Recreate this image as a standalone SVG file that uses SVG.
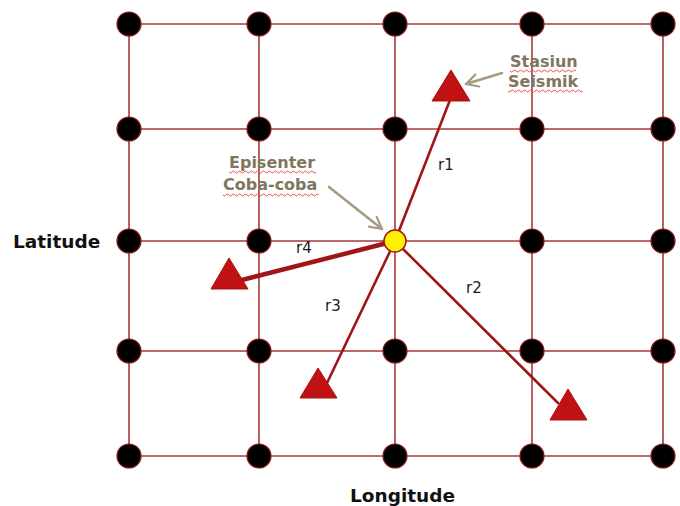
<svg xmlns="http://www.w3.org/2000/svg" width="680" height="506" viewBox="0 0 680 506">
<style>
.grid{stroke:#A8383A;stroke-width:1.6;fill:none}
.dot{fill:#000;stroke:#8B1A1A;stroke-width:1.2}
.ray{stroke:#A01518;stroke-width:2.6;fill:none;stroke-linecap:round}
.sta{fill:#C01212;stroke:#A81010;stroke-width:1}
.lbl{font-family:"DejaVu Sans",Verdana,sans-serif;font-size:15px;fill:#1a1a1a}
.axis{font-family:"DejaVu Sans",Verdana,sans-serif;font-size:18.5px;font-weight:bold;fill:#111}
.call{font-family:"DejaVu Sans",Verdana,sans-serif;font-size:16px;font-weight:bold;fill:#807660}
.callarrow{stroke:#A59B80;stroke-width:2.6;fill:none;stroke-linecap:round}
.wavy{stroke:#F05050;stroke-width:1;fill:none}
</style>
<defs>
<marker id="ah" viewBox="0 0 10 10" refX="8.5" refY="5" markerWidth="6" markerHeight="6" orient="auto" markerUnits="strokeWidth">
<path d="M1 1 L8.5 5 L1 9" fill="none" stroke="#A59B80" stroke-width="1.4" stroke-linecap="round" stroke-linejoin="round"/>
</marker>
</defs>
<rect width="680" height="506" fill="#fff"/>
<g id="grid">
<line class="grid" x1="129" y1="24" x2="663" y2="24"/>
<line class="grid" x1="129" y1="129" x2="663" y2="129"/>
<line class="grid" x1="129" y1="241" x2="663" y2="241"/>
<line class="grid" x1="129" y1="351" x2="663" y2="351"/>
<line class="grid" x1="129" y1="456" x2="663" y2="456"/>
<line class="grid" x1="129" y1="24" x2="129" y2="456"/>
<line class="grid" x1="259" y1="24" x2="259" y2="456"/>
<line class="grid" x1="395" y1="24" x2="395" y2="456"/>
<line class="grid" x1="532" y1="24" x2="532" y2="456"/>
<line class="grid" x1="663" y1="24" x2="663" y2="456"/>
</g>
<g id="grid-nodes">
<circle class="dot" cx="129" cy="24" r="12"/><circle class="dot" cx="259" cy="24" r="12"/><circle class="dot" cx="395" cy="24" r="12"/><circle class="dot" cx="532" cy="24" r="12"/><circle class="dot" cx="663" cy="24" r="12"/>
<circle class="dot" cx="129" cy="129" r="12"/><circle class="dot" cx="259" cy="129" r="12"/><circle class="dot" cx="395" cy="129" r="12"/><circle class="dot" cx="532" cy="129" r="12"/><circle class="dot" cx="663" cy="129" r="12"/>
<circle class="dot" cx="129" cy="241" r="12"/><circle class="dot" cx="259" cy="241" r="12"/><circle class="dot" cx="532" cy="241" r="12"/><circle class="dot" cx="663" cy="241" r="12"/>
<circle class="dot" cx="129" cy="351" r="12"/><circle class="dot" cx="259" cy="351" r="12"/><circle class="dot" cx="395" cy="351" r="12"/><circle class="dot" cx="532" cy="351" r="12"/><circle class="dot" cx="663" cy="351" r="12"/>
<circle class="dot" cx="129" cy="456" r="12"/><circle class="dot" cx="259" cy="456" r="12"/><circle class="dot" cx="395" cy="456" r="12"/><circle class="dot" cx="532" cy="456" r="12"/><circle class="dot" cx="663" cy="456" r="12"/>
</g>
<g id="connectors">
<line class="ray" x1="395" y1="241" x2="450" y2="100"/>
<line class="ray" x1="395" y1="241" x2="558" y2="403"/>
<line class="ray" x1="395" y1="241" x2="327" y2="383"/>
<line class="ray" x1="395" y1="241" x2="242" y2="280" style="stroke-width:4.5"/>
<line class="callarrow" x1="502" y1="73" x2="466" y2="84" marker-end="url(#ah)"/>
<line class="callarrow" x1="329" y1="187" x2="382" y2="229" marker-end="url(#ah)"/>
</g>
<g id="station-1"><polygon class="sta" points="451,70 432,101 470,101"/></g>
<g id="station-2"><polygon class="sta" points="568,389 550,420 587,420"/></g>
<g id="station-3"><polygon class="sta" points="318,368 300,398 337,398"/></g>
<g id="station-4"><polygon class="sta" points="229,258 211,289 248,289"/></g>
<g id="epicenter"><circle cx="395" cy="241" r="11" fill="#FFF200" stroke="#9B1B1B" stroke-width="1.5"/></g>
<g id="labels">
<text class="lbl" x="438" y="170">r1</text>
<text class="lbl" x="466" y="293">r2</text>
<text class="lbl" x="325" y="311">r3</text>
<text class="lbl" x="296" y="253">r4</text>
<text class="axis" x="13" y="248">Latitude</text>
<text class="axis" x="350" y="502">Longitude</text>
</g>
<g id="callout-stasiun">
<text class="call" x="510" y="67">Stasiun</text>
<text class="call" x="508" y="87">Seismik</text>
<path class="wavy" d="M510 71 q1.5 2 3 0 t3 0 t3 0 t3 0 t3 0 t3 0 t3 0 t3 0 t3 0 t3 0 t3 0 t3 0 t3 0 t3 0 t3 0 t3 0 t3 0 t3 0 t3 0 t3 0 t3 0 t3 0"/>
<path class="wavy" d="M508 91 q1.5 2 3 0 t3 0 t3 0 t3 0 t3 0 t3 0 t3 0 t3 0 t3 0 t3 0 t3 0 t3 0 t3 0 t3 0 t3 0 t3 0 t3 0 t3 0 t3 0 t3 0 t3 0 t3 0 t3 0 t3 0 t3 0"/>
</g>
<g id="callout-episenter">
<text class="call" x="229" y="168">Episenter</text>
<text class="call" x="223" y="190">Coba-coba</text>
<path class="wavy" d="M229 172 q1.5 2 3 0 t3 0 t3 0 t3 0 t3 0 t3 0 t3 0 t3 0 t3 0 t3 0 t3 0 t3 0 t3 0 t3 0 t3 0 t3 0 t3 0 t3 0 t3 0 t3 0 t3 0 t3 0 t3 0 t3 0 t3 0 t3 0 t3 0 t3 0 t3 0"/>
<path class="wavy" d="M223 195 q1.5 2 3 0 t3 0 t3 0 t3 0 t3 0 t3 0 t3 0 t3 0 t3 0 t3 0 t3 0 t3 0 t3 0 t3 0 t3 0 t3 0 t3 0 t3 0 t3 0 t3 0 t3 0 t3 0 t3 0 t3 0 t3 0 t3 0 t3 0 t3 0 t3 0 t3 0 t3 0 t3 0"/>
</g>
</svg>
